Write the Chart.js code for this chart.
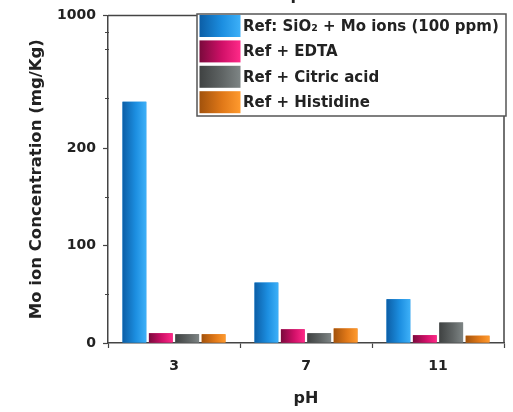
<!DOCTYPE html>
<html>
<head>
<meta charset="utf-8">
<script src="https://cdn.jsdelivr.net/npm/chart.js@4/dist/chart.umd.min.js"></script>
<style>
  html, body { margin: 0; padding: 0; background: #ffffff; }
  #wrap { width: 513px; height: 412px; }
</style>
</head>
<body>
<div id="wrap"><canvas id="chart" width="513" height="412"></canvas></div>
<script>
// pH levels on the category axis
const PH_LEVELS = ['3', '7', '11'];

// Mo ion concentration (mg/Kg) per pH level
const REF_SIO2_MO = [480, 62, 45];
const REF_EDTA = [10, 14, 8];
const REF_CITRIC = [9, 10, 21];
const REF_HISTIDINE = [9, 15, 7.5];

// Y axis tick values (broken axis: linear 0-200, compressed 200-1000)
const Y_TICKS = [0, 100, 200, 1000];
const Y_MINOR_TICKS = [50, 150, 500, 800, 900];

const SERIES_LABELS = [
  'Ref: SiO\u2082 + Mo ions (100 ppm)',
  'Ref + EDTA',
  'Ref + Citric acid',
  'Ref + Histidine'
];

const FONT = '"DejaVu Sans", "Liberation Sans", Arial, sans-serif';
const TEXT_COLOR = '#222222';
const AXIS_COLOR = '#444444';

// fill colours: [dark edge, body, light edge]
const SHADES = [
  ['#0c5ea6', '#1c8ee0', '#3db0f8'],
  ['#7a0a3c', '#d01068', '#ff2a88'],
  ['#3f4242', '#5f6464', '#7e8585'],
  ['#a2520c', '#e07818', '#ff9a2e']
];

// Linear scale with a break: the lower part (0..BREAK_AT) takes BREAK_FRACTION of the height
const BREAK_AT = 200;
const BREAK_FRACTION = 0.5945;

class BrokenLinearScale extends Chart.LinearScale {
  getPixelForValue(value) {
    if (value === null || value === undefined || isNaN(value)) return NaN;
    const h = this.bottom - this.top;
    const low = h * BREAK_FRACTION;
    if (value <= BREAK_AT) {
      return this.bottom - (value - this.min) / (BREAK_AT - this.min) * low;
    }
    return this.bottom - low - (value - BREAK_AT) / (this.max - BREAK_AT) * (h - low);
  }
  getValueForPixel(pixel) {
    const h = this.bottom - this.top;
    const low = h * BREAK_FRACTION;
    const d = this.bottom - pixel;
    if (d <= low) return this.min + d / low * (BREAK_AT - this.min);
    return BREAK_AT + (d - low) / (h - low) * (this.max - BREAK_AT);
  }
}
BrokenLinearScale.id = 'brokenLinear';
BrokenLinearScale.defaults = Chart.LinearScale.defaults;
Chart.register(BrokenLinearScale);

function horizontalGradient(ctx, left, right, shade) {
  const g = ctx.createLinearGradient(left, 0, right, 0);
  g.addColorStop(0, shade[0]);
  g.addColorStop(0.55, shade[1]);
  g.addColorStop(1, shade[2]);
  return g;
}

// Shaded bar fills, using the positions computed by the bar controller
const barShading = {
  id: 'barShading',
  afterDatasetDraw(chart, args) {
    const ctx = chart.ctx;
    const shade = SHADES[args.index];
    ctx.save();
    args.meta.data.forEach(el => {
      const { x, y, base, width } = el.getProps(['x', 'y', 'base', 'width'], true);
      const left = x - width / 2;
      ctx.fillStyle = horizontalGradient(ctx, left, left + width, shade);
      ctx.fillRect(left, Math.min(y, base), width, Math.abs(base - y));
    });
    ctx.restore();
  }
};

// Frame, minor ticks, top title remnant and boxed legend
const decorations = {
  id: 'decorations',
  afterDraw(chart) {
    const ctx = chart.ctx;
    const { left, right, top, bottom } = chart.chartArea;
    const yScale = chart.scales.y;
    ctx.save();

    // top and right frame lines
    ctx.strokeStyle = AXIS_COLOR;
    ctx.lineWidth = 1.5;
    ctx.beginPath();
    ctx.moveTo(left, top);
    ctx.lineTo(right, top);
    ctx.lineTo(right, bottom);
    ctx.stroke();

    // minor ticks on the value axis
    ctx.lineWidth = 1;
    Y_MINOR_TICKS.forEach(v => {
      const py = Math.round(yScale.getPixelForValue(v)) + 0.5;
      ctx.beginPath();
      ctx.moveTo(left - 3, py);
      ctx.lineTo(left + 1, py);
      ctx.stroke();
    });

    // top axis title, mostly outside the canvas
    ctx.fillStyle = TEXT_COLOR;
    ctx.font = 'bold 16px ' + FONT;
    ctx.textAlign = 'center';
    ctx.textBaseline = 'alphabetic';
    ctx.fillText('pH', 303, 0);

    // legend box
    const bx = 197, by = 14, bw = 309, bh = 102;
    ctx.fillStyle = '#ffffff';
    ctx.fillRect(bx, by, bw, bh);
    ctx.strokeStyle = '#555555';
    ctx.lineWidth = 1.5;
    ctx.strokeRect(bx, by, bw, bh);

    ctx.font = 'bold 15px ' + FONT;
    ctx.textAlign = 'left';
    ctx.textBaseline = 'middle';
    chart.data.datasets.forEach((ds, i) => {
      const cy = 26 + i * 25.4;
      const sx = 199.5, sw = 41, sh = 22;
      ctx.fillStyle = horizontalGradient(ctx, sx, sx + sw, SHADES[i]);
      ctx.fillRect(sx, cy - sh / 2, sw, sh);
      ctx.fillStyle = TEXT_COLOR;
      ctx.fillText(ds.label, 243, cy + 1);
    });

    ctx.restore();
  }
};

const datasets = [REF_SIO2_MO, REF_EDTA, REF_CITRIC, REF_HISTIDINE].map((values, i) => ({
  label: SERIES_LABELS[i],
  data: values,
  backgroundColor: SHADES[i][1],
  borderWidth: 0,
  categoryPercentage: 0.8,
  barPercentage: 0.9
}));

new Chart(document.getElementById('chart'), {
  type: 'bar',
  data: { labels: PH_LEVELS, datasets },
  plugins: [barShading, decorations],
  options: {
    responsive: false,
    animation: false,
    layout: { padding: { top: 15, right: 9, left: 0, bottom: 0 } },
    plugins: {
      legend: { display: false },
      tooltip: { enabled: false }
    },
    scales: {
      x: {
        type: 'category',
        afterFit(scale) { scale.height = 69; },
        grid: {
          drawOnChartArea: false,
          drawTicks: true,
          tickLength: 5,
          tickWidth: 1.2,
          tickColor: AXIS_COLOR
        },
        border: { display: true, color: AXIS_COLOR, width: 1.5 },
        ticks: {
          padding: 10,
          color: TEXT_COLOR,
          font: { family: FONT, size: 14, weight: 'bold' }
        },
        title: {
          display: true,
          text: 'pH',
          color: TEXT_COLOR,
          font: { family: FONT, size: 16, weight: 'bold' },
          padding: { top: 0, bottom: 4 }
        }
      },
      y: {
        type: 'brokenLinear',
        min: 0,
        max: 1000,
        afterFit(scale) { scale.width = 108; },
        afterBuildTicks(scale) { scale.ticks = Y_TICKS.map(v => ({ value: v })); },
        grid: {
          drawOnChartArea: false,
          drawTicks: true,
          tickLength: 5,
          tickWidth: 1.2,
          tickColor: AXIS_COLOR
        },
        border: { display: true, color: AXIS_COLOR, width: 1.5 },
        ticks: {
          padding: 7,
          color: TEXT_COLOR,
          font: { family: FONT, size: 14, weight: 'bold' },
          callback: v => String(v)
        },
        title: {
          display: true,
          text: 'Mo ion Concentration (mg/Kg)',
          color: TEXT_COLOR,
          font: { family: FONT, size: 16.5, weight: 'bold' },
          padding: { top: 27, bottom: 0 }
        }
      }
    }
  }
});
</script>
</body>
</html>
